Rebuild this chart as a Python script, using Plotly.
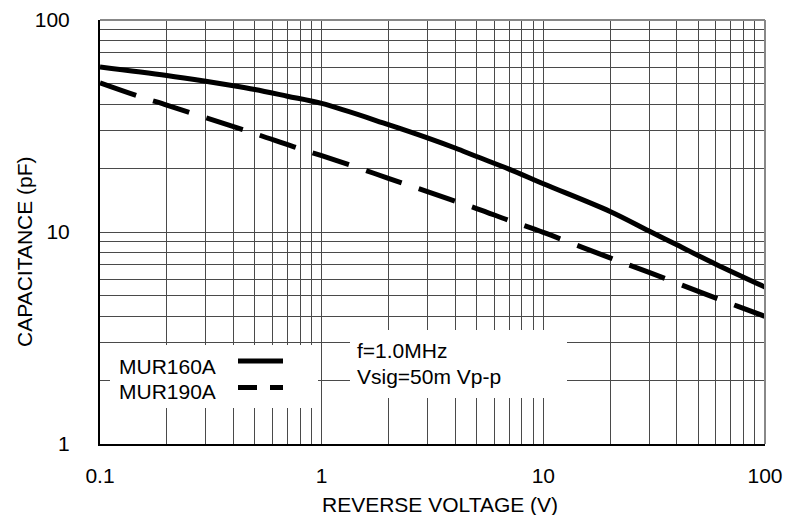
import plotly.graph_objects as go

# ---- data ----
v_160 = [0.1, 0.2, 0.3, 0.4, 0.5, 0.7, 1, 2, 3, 4, 5, 7, 10, 20, 30, 40, 60, 100]
c_160 = [60, 54.7, 51.4, 49, 47, 43.7, 40.4, 32.1, 27.8, 24.9, 22.7, 19.8, 16.9, 12.5, 10.1, 8.7, 7.05, 5.5]

v_190 = [0.1, 0.15, 0.2, 0.3, 0.5, 0.75, 1, 1.5, 2, 3, 5, 7, 10, 15, 20, 30, 50, 75, 100]
c_190 = [50.5, 43.6, 39.7, 34.6, 29.1, 25.2, 22.9, 19.9, 17.9, 15.5, 12.9, 11.35, 9.95, 8.46, 7.55, 6.45, 5.25, 4.47, 4.0]

x_ticks = [0.1, 1, 10, 100]
x_ticktext = ["0.1", "1", "10", "100"]
y_ticks = [1, 10, 100]
y_ticktext = ["1", "10", "100"]
x_minor = [m * d for d in (0.1, 1, 10) for m in range(2, 10)]
y_minor = [m * d for d in (1, 10) for m in range(2, 10)]

names = ["MUR160A", "MUR190A"]
note_lines = ["f=1.0MHz", "Vsig=50m Vp-p"]
x_title = "REVERSE VOLTAGE (V)"
y_title = "CAPACITANCE (pF)"

FONT = "Liberation Sans, Arial, sans-serif"
FS = 21
GRID = "#4a4a4a"

fig = go.Figure()
fig.add_trace(go.Scatter(x=v_160, y=c_160, mode="lines", name=names[0],
                         line=dict(color="black", width=5, shape="spline"),
                         showlegend=False))
fig.add_trace(go.Scatter(x=v_190, y=c_190, mode="lines", name=names[1],
                         line=dict(color="black", width=5, shape="spline", dash="38px,18px"),
                         showlegend=False))

axis_common = dict(
    type="log", showgrid=True, gridcolor=GRID, gridwidth=1,
    ticks="", zeroline=False, automargin=False,
    tickfont=dict(family=FONT, size=FS, color="black"),
    showline=True, linecolor="black", linewidth=2,
)
fig.update_xaxes(range=[-1, 2], tickvals=x_ticks, ticktext=x_ticktext,
                 ticklabelstandoff=12,
                 minor=dict(tickvals=x_minor, showgrid=True, gridcolor=GRID, gridwidth=1, ticks=""),
                 **axis_common)
fig.update_yaxes(range=[0, 2], tickvals=y_ticks, ticktext=y_ticktext,
                 ticklabelstandoff=24,
                 minor=dict(tickvals=y_minor, showgrid=True, gridcolor=GRID, gridwidth=1, ticks=""),
                 **axis_common)

W, H = 785, 515
L, R, T, B = 100, 20, 20, 71
pw, ph = W - L - R, H - T - B


def px(x):
    return (x - L) / pw


def py(y):
    return (H - B - y) / ph


shapes = [
    # top/right frame
    dict(type="line", xref="paper", yref="paper", x0=0, x1=1, y0=1, y1=1,
         line=dict(color="#888888", width=2), layer="above"),
    dict(type="line", xref="paper", yref="paper", x0=1, x1=1, y0=0, y1=1,
         line=dict(color="#888888", width=2), layer="above"),
    # legend white box
    dict(type="rect", xref="paper", yref="paper", x0=px(110), x1=px(318), y0=py(408), y1=py(345),
         fillcolor="white", line=dict(width=0), layer="above"),
    # note white box
    dict(type="rect", xref="paper", yref="paper", x0=px(350), x1=px(567), y0=py(398), y1=py(330),
         fillcolor="white", line=dict(width=0), layer="above"),
    # legend samples
    dict(type="line", xref="paper", yref="paper", x0=px(238), x1=px(283), y0=py(361), y1=py(361),
         line=dict(color="black", width=5), layer="above"),
    dict(type="line", xref="paper", yref="paper", x0=px(238), x1=px(257), y0=py(387.5), y1=py(387.5),
         line=dict(color="black", width=5), layer="above"),
    dict(type="line", xref="paper", yref="paper", x0=px(270), x1=px(283), y0=py(387.5), y1=py(387.5),
         line=dict(color="black", width=5), layer="above"),
]

tf = dict(family=FONT, size=FS, color="black")
annotations = [
    dict(text=names[0], xref="paper", yref="paper", x=px(117), y=py(366),
         xanchor="left", yanchor="middle", showarrow=False, font=tf),
    dict(text=names[1], xref="paper", yref="paper", x=px(117), y=py(391),
         xanchor="left", yanchor="middle", showarrow=False, font=tf),
    dict(text=note_lines[0], xref="paper", yref="paper", x=px(355), y=py(350),
         xanchor="left", yanchor="middle", showarrow=False, font=tf),
    dict(text=note_lines[1], xref="paper", yref="paper", x=px(355), y=py(376),
         xanchor="left", yanchor="middle", showarrow=False, font=tf),
    dict(text=x_title, xref="paper", yref="paper", x=px(439.5), y=py(504),
         xanchor="center", yanchor="middle", showarrow=False, font=tf),
    dict(text=y_title, xref="paper", yref="paper", x=px(24), y=py(252),
         xanchor="center", yanchor="middle", showarrow=False, font=tf, textangle=-90),
]

fig.update_layout(
    width=W, height=H, autosize=False,
    margin=dict(l=L, r=R, t=T, b=B, pad=0, autoexpand=False),
    paper_bgcolor="white", plot_bgcolor="white",
    shapes=shapes, annotations=annotations,
    showlegend=False,
    font=dict(family=FONT, size=FS, color="black"),
)

fig.write_html(
    "out.html",
    config={"displayModeBar": False},
    post_script="document.body.style.margin='0';document.body.style.padding='0';"
                "document.body.style.overflow='hidden';"
                "document.documentElement.style.overflow='hidden';",
)
